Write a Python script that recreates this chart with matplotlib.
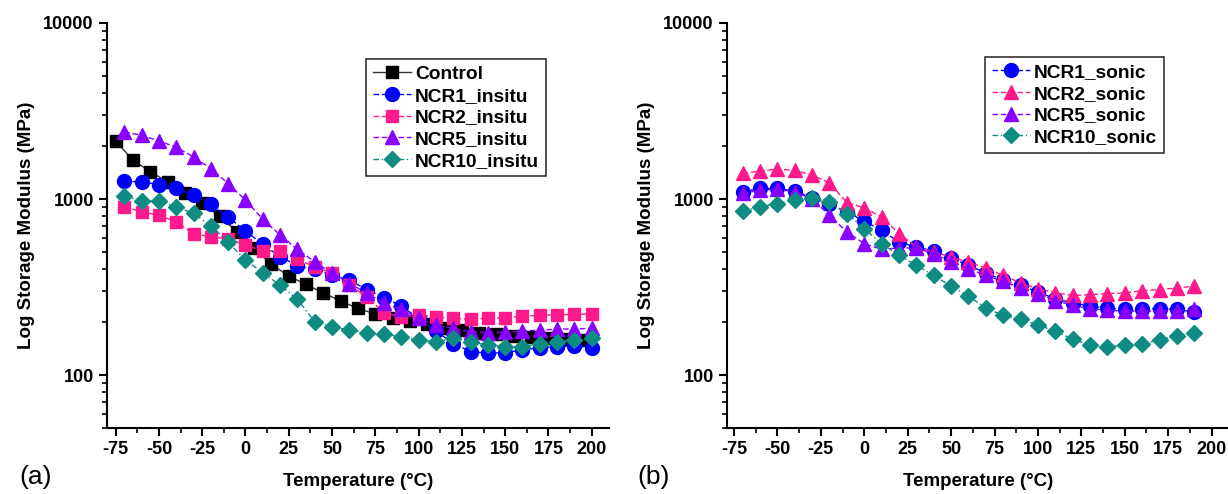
"""Storage modulus vs temperature for in-situ and sonicated NCR samples."""

import matplotlib
matplotlib.use("Agg")
import matplotlib.pyplot as plt
from matplotlib.ticker import LogLocator, MultipleLocator, NullFormatter

plt.rcParams['font.family'] = ['Liberation Sans', 'DejaVu Sans']
plt.rcParams['axes.unicode_minus'] = False

# ---- data ----
temp_control = [-75, -65, -55, -45, -35, -25, -15, -5, 5, 15, 25, 35, 45, 55,
                65, 75, 85, 95, 105, 115, 125, 135, 145, 155, 165, 175, 185, 195]
control = [2138, 1660, 1432, 1251, 1084, 943, 800, 652, 524, 425, 365, 327, 293, 263,
           239, 222, 210, 203, 194, 186, 180, 174, 170, 167, 164, 162, 160, 159]

temp_insitu = [-70, -60, -50, -40, -30, -20, -10, 0, 10, 20, 30, 40, 50, 60,
               70, 80, 90, 100, 110, 120, 130, 140, 150, 160, 170, 180, 190, 200]
ncr1_insitu = [1262, 1250, 1208, 1148, 1052, 935, 789, 660, 552, 470, 418, 398, 370, 346,
               306, 275, 246, 210, 178, 151, 136, 133, 134, 139, 143, 145, 146, 143]
ncr2_insitu = [903, 846, 809, 741, 636, 609, 594, 547, 508, 506, 454, 412, 378, 324,
               279, 226, 214, 219, 214, 210, 207, 210, 211, 216, 218, 220, 221, 222]
ncr5_insitu = [2406, 2301, 2138, 1968, 1734, 1489, 1224, 985, 769, 624, 517, 440, 378, 331,
               293, 255, 236, 210, 192, 184, 176, 174, 175, 178, 180, 182, 183, 184]
ncr10_insitu = [1038, 977, 975, 903, 828, 705, 567, 450, 381, 324, 269, 201, 188, 180,
                174, 172, 164, 159, 154, 162, 154, 148, 145, 145, 151, 154, 158, 162]

temp_sonic = [-70, -60, -50, -40, -30, -20, -10, 0, 10, 20, 30, 40, 50, 60,
              70, 80, 90, 100, 110, 120, 130, 140, 150, 160, 170, 180, 190]
ncr1_sonic = [1099, 1148, 1148, 1109, 1016, 931, 846, 748, 664, 570, 534, 507, 462, 420,
              381, 345, 323, 296, 271, 257, 246, 240, 236, 238, 238, 236, 228]
ncr2_sonic = [1397, 1442, 1480, 1454, 1367, 1236, 955, 891, 791, 636, 534, 500, 468, 439,
              405, 368, 334, 309, 293, 283, 286, 290, 293, 301, 306, 312, 320]
ncr5_sonic = [1075, 1122, 1137, 1099, 998, 809, 650, 558, 518, 527, 527, 489, 439, 402,
              368, 340, 312, 290, 265, 249, 238, 233, 231, 231, 231, 231, 236]
ncr10_sonic = [853, 902, 942, 993, 1007, 964, 827, 679, 558, 479, 420, 368, 320, 281,
               240, 218, 207, 193, 177, 160, 148, 144, 148, 150, 159, 166, 173]

x_ticks = [-75, -50, -25, 0, 25, 50, 75, 100, 125, 150, 175, 200]

BLACK = '#000000'
BLUE = '#0000FF'
PINK = '#FF1A8C'
PURPLE = '#8800FF'
TEAL = '#0E8C84'


def style_axis(ax, xlim):
    ax.set_yscale('log')
    ax.set_ylim(50, 10000)
    ax.set_xlim(*xlim)
    ax.set_xticks(x_ticks)
    ax.xaxis.set_minor_locator(MultipleLocator(12.5))
    ax.yaxis.set_minor_locator(LogLocator(base=10, subs=range(2, 10), numticks=20))
    ax.yaxis.set_minor_formatter(NullFormatter())
    ax.set_yticks([100, 1000, 10000])
    ax.set_yticklabels(['100', '1000', '10000'])
    for side in ('top', 'right'):
        ax.spines[side].set_visible(False)
    for side in ('left', 'bottom'):
        ax.spines[side].set_linewidth(1.5)
    ax.tick_params(which='major', direction='out', length=6, width=1.5,
                   labelsize=13)
    ax.tick_params(which='minor', direction='out', length=3.5, width=1.2)
    for lbl in ax.get_xticklabels() + ax.get_yticklabels():
        lbl.set_fontweight('bold')
    ax.set_xlabel('Temperature (\u00b0C)', fontsize=13.5, fontweight='bold', labelpad=11)
    ax.set_ylabel('Log Storage Modulus (MPa)', fontsize=13.5, fontweight='bold', labelpad=6)


def add_legend(ax, anchor):
    leg = ax.legend(loc='upper left', bbox_to_anchor=anchor, fontsize=13.8,
                    frameon=True, fancybox=False, edgecolor='black',
                    handlelength=2.0, handletextpad=0.2, borderpad=0.35,
                    labelspacing=0.22, borderaxespad=0)
    leg.get_frame().set_linewidth(1.2)
    for t in leg.get_texts():
        t.set_fontweight('bold')


fig = plt.figure(figsize=(12.28, 4.94), dpi=100)
ax1 = fig.add_axes([107 / 1228, 66 / 494, 502 / 1228, 405 / 494])
ax2 = fig.add_axes([727 / 1228, 66 / 494, 502 / 1228, 405 / 494])

# Panel (a): in-situ
ax1.plot(temp_control, control, color='#333333', lw=1, ls='-', marker='s',
         ms=9, mfc=BLACK, mec=BLACK, label='Control', zorder=3)
ax1.plot(temp_insitu, ncr1_insitu, color=BLUE, lw=1, ls=(0, (4, 2)), marker='o',
         ms=10, mfc=BLUE, mec=BLUE, label='NCR1_insitu', zorder=3)
ax1.plot(temp_insitu, ncr2_insitu, color=PINK, lw=1, ls=(0, (4, 2)), marker='s',
         ms=9, mfc=PINK, mec=PINK, label='NCR2_insitu', zorder=3)
ax1.plot(temp_insitu, ncr5_insitu, color=PURPLE, lw=1, ls=(0, (4, 2)), marker='^',
         ms=10, mfc=PURPLE, mec=PURPLE, label='NCR5_insitu', zorder=3)
ax1.plot(temp_insitu, ncr10_insitu, color=TEAL, lw=1, ls=(0, (4, 2, 1, 2)), marker='D',
         ms=8, mfc=TEAL, mec=TEAL, label='NCR10_insitu', zorder=3)
style_axis(ax1, (-80, 210))
add_legend(ax1, (259 / 502, 1 - 36 / 405))

# Panel (b): sonicated
ax2.plot(temp_sonic, ncr1_sonic, color=BLUE, lw=1, ls=(0, (4, 2)), marker='o',
         ms=10, mfc=BLUE, mec=BLUE, label='NCR1_sonic', zorder=3)
ax2.plot(temp_sonic, ncr2_sonic, color=PINK, lw=1, ls=(0, (4, 2)), marker='^',
         ms=10, mfc=PINK, mec=PINK, label='NCR2_sonic', zorder=3)
ax2.plot(temp_sonic, ncr5_sonic, color=PURPLE, lw=1, ls=(0, (4, 2)), marker='^',
         ms=10, mfc=PURPLE, mec=PURPLE, label='NCR5_sonic', zorder=3)
ax2.plot(temp_sonic, ncr10_sonic, color=TEAL, lw=1, ls=(0, (4, 2, 1, 2)), marker='D',
         ms=8, mfc=TEAL, mec=TEAL, label='NCR10_sonic', zorder=3)
style_axis(ax2, (-79, 210))
add_legend(ax2, (258 / 502, 1 - 34 / 405))

fig.text(36 / 1228, 1 - 477 / 494, '(a)', fontsize=19, ha='center', va='center')
fig.text(654 / 1228, 1 - 477 / 494, '(b)', fontsize=19, ha='center', va='center')

fig.savefig('out.png', dpi=100)
